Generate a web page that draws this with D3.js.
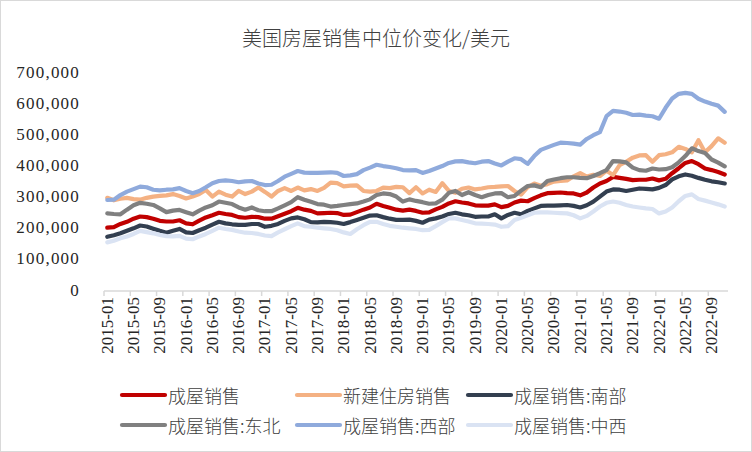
<!DOCTYPE html>
<html><head><meta charset="utf-8">
<script src="https://cdn.jsdelivr.net/npm/d3@7/dist/d3.min.js"></script>
<style>
html,body{margin:0;padding:0;background:#fff;}
svg{display:block;}
</style></head>
<body>
<svg id="chart" width="752" height="452"></svg>
<script>
// ---------------- data (values in thousands of US$) ----------------
const title = "美国房屋销售中位价变化/美元";
const startMonth = "2015-01";
const monthCount = 95; // 2015-01 .. 2022-11
const yTicks = [0, 100000, 200000, 300000, 400000, 500000, 600000, 700000];

const seriesNames = ["成屋销售", "新建住房销售", "成屋销售:南部", "成屋销售:东北", "成屋销售:西部", "成屋销售:中西"];
const seriesColors = ["#C00000", "#F4B183", "#333F50", "#808080", "#8FAADC", "#DAE3F3"];

const existing = [
  200,202,212,219,229,236,234,229,222,220,220,224,
  214,211,223,233,240,248,244,241,234,232,235,234,
  229,229,237,245,253,264,258,254,246,247,248,247,
  241,242,250,258,265,277,270,264,258,255,258,254,
  248,249,259,267,278,285,281,278,272,271,271,275,
  266,270,281,287,285,295,304,311,312,313,311,310,
  304,313,329,342,350,363,360,357,353,354,354,358,
  352,357,375,391,408,414,404,390,385,379,371];
const newHomes = [
  296,288,293,296,292,290,296,300,302,304,308,302,
  294,300,308,321,300,316,306,300,318,308,316,329,
  315,300,318,327,318,329,320,324,318,328,345,343,
  333,335,336,318,316,318,329,327,331,330,311,330,
  310,322,315,343,318,312,325,329,323,326,330,331,
  333,334,318,306,330,342,335,340,348,350,352,365,
  375,364,370,366,383,369,401,412,425,432,433,412,
  433,436,442,460,453,442,481,442,462,487,473];
const south = [
  171,176,182,190,198,207,204,197,190,184,190,196,
  185,183,192,200,210,219,214,211,209,209,212,212,
  203,206,212,222,230,233,227,218,217,219,218,216,
  212,218,225,232,239,240,234,229,225,225,226,222,
  216,226,230,236,244,248,243,240,235,236,236,243,
  230,241,248,243,254,262,270,271,271,272,273,270,
  265,272,284,300,316,323,322,318,322,326,325,323,
  328,337,355,365,371,367,360,354,349,346,342];
const northeast = [
  246,244,243,258,272,280,277,273,262,250,255,257,
  250,243,255,265,272,284,280,276,265,258,265,256,
  253,253,262,272,282,298,290,283,276,274,268,270,
  273,276,278,284,291,305,310,308,300,284,291,286,
  282,277,278,290,312,318,305,314,305,298,305,310,
  311,298,302,319,334,336,330,350,355,359,362,362,
  360,359,366,375,385,414,413,410,393,385,383,390,
  387,388,394,410,430,455,446,440,419,409,397];
const west = [
  289,290,305,316,324,332,330,322,320,322,323,327,
  318,311,318,330,343,350,352,350,346,349,350,342,
  337,338,350,364,373,382,377,376,376,377,378,376,
  366,368,372,385,393,402,398,395,391,385,384,385,
  376,382,390,398,408,413,414,410,407,412,414,406,
  400,412,423,420,405,430,450,458,466,473,472,470,
  467,485,497,507,558,575,573,569,562,563,560,558,
  550,585,615,630,633,630,614,605,598,592,572];
const midwest = [
  153,158,166,172,180,190,186,182,177,173,172,174,
  165,163,172,180,190,200,196,193,188,184,183,180,
  175,173,185,195,205,214,205,203,200,198,196,192,
  185,180,195,208,219,219,212,206,203,200,198,196,
  192,193,205,218,230,230,225,220,214,213,212,210,
  203,205,225,232,240,248,249,249,248,247,246,240,
  230,238,252,268,280,284,280,273,268,265,262,260,
  246,252,265,285,302,307,292,287,281,275,268];

const seriesValues = [existing, newHomes, south, northeast, west, midwest];

// ---------------- chart ----------------
const svg = d3.select("#chart");
const W = 752, H = 452;

const parse = d3.timeParse("%Y-%m");
const fmtMonth = d3.timeFormat("%Y-%m");
const start = parse(startMonth);
const months = d3.timeMonth.range(start, d3.timeMonth.offset(start, monthCount)).map(fmtMonth);

const x = d3.scaleBand().domain(months).range([104, 728]).padding(0);
const y = d3.scaleLinear().domain([0, 700000]).range([290, 72]);
const cx = d => x(d) + x.bandwidth() / 2;

// outer border
svg.append("rect").attr("x", 0.5).attr("y", 0.5).attr("width", W - 1).attr("height", H - 1)
  .attr("fill", "#fff").attr("stroke", "#d9d9d9").attr("stroke-width", 1);

// title
svg.append("text").attr("x", 376).attr("y", 37)
  .attr("text-anchor", "middle").attr("dominant-baseline", "central")
  .attr("font-family", "'Noto Sans CJK SC', sans-serif").attr("font-size", 20)
  .attr("font-weight", 300)
  .attr("fill", "#404040").text(title);

// y labels
const fmtY = d3.format(",");
svg.append("g").selectAll("text").data(yTicks).join("text")
  .attr("x", 80).attr("y", d => y(d))
  .attr("text-anchor", "end").attr("dominant-baseline", "central")
  .attr("font-family", "'Liberation Serif', serif").attr("font-size", 17)
  .attr("letter-spacing", 1.2)
  .attr("fill", "#262626").text(d => fmtY(d));

// x axis line + ticks
const axisY = y(0) + 1;
svg.append("line").attr("x1", 104).attr("x2", 728).attr("y1", axisY).attr("y2", axisY)
  .attr("stroke", "#d9d9d9").attr("stroke-width", 1.5);
const tickMonths = months.filter((m, i) => i % 4 === 0);
svg.append("g").selectAll("line").data(tickMonths).join("line")
  .attr("x1", d => x(d)).attr("x2", d => x(d))
  .attr("y1", axisY).attr("y2", axisY + 5)
  .attr("stroke", "#d9d9d9").attr("stroke-width", 1.5);
svg.append("g").selectAll("text").data(tickMonths).join("text")
  .attr("transform", d => `translate(${cx(d)},${axisY + 6}) rotate(-90)`)
  .attr("text-anchor", "end").attr("dominant-baseline", "central")
  .attr("font-family", "'Liberation Serif', serif").attr("font-size", 17)
  .attr("fill", "#262626").text(d => d);

// lines
const line = d3.line().x((d, i) => cx(months[i])).y(d => y(d * 1000));
seriesValues.forEach((vals, k) => {
  svg.append("path").datum(vals)
    .attr("d", line)
    .attr("fill", "none")
    .attr("stroke", seriesColors[k])
    .attr("stroke-width", 4.2)
    .attr("stroke-linejoin", "round")
    .attr("stroke-linecap", "round");
});

// legend
const legX = [122, 297, 468];
const legY = [395, 425];
const leg = svg.append("g");
seriesNames.forEach((name, k) => {
  const lx = legX[k % 3], ly = legY[Math.floor(k / 3)];
  leg.append("line").attr("x1", lx).attr("x2", lx + 43).attr("y1", ly).attr("y2", ly)
    .attr("stroke", seriesColors[k]).attr("stroke-width", 4.2).attr("stroke-linecap", "round");
  leg.append("text").attr("x", lx + 46).attr("y", ly)
    .attr("dominant-baseline", "central")
    .attr("font-family", "'Noto Sans CJK SC', sans-serif").attr("font-size", 18)
    .attr("font-weight", 300)
    .attr("fill", "#404040").text(name);
});
</script>
</body></html>
